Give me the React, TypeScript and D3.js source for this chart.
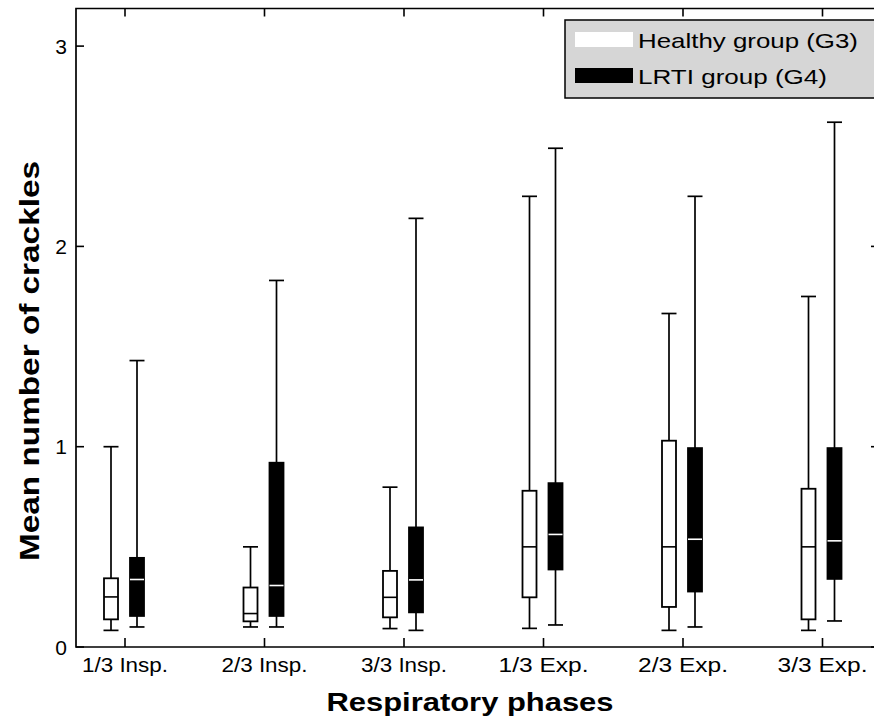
import React from "react";
import * as d3 from "d3";

const categories = ["1/3 Insp.", "2/3 Insp.", "3/3 Insp.", "1/3 Exp.", "2/3 Exp.", "3/3 Exp."];
const healthyMin = [0.083, 0.10, 0.092, 0.093, 0.083, 0.083];
const healthyQ1 = [0.138, 0.128, 0.148, 0.248, 0.20, 0.138];
const healthyMedian = [0.25, 0.167, 0.248, 0.50, 0.50, 0.50];
const healthyQ3 = [0.343, 0.297, 0.38, 0.78, 1.03, 0.79];
const healthyMax = [1.0, 0.50, 0.798, 2.25, 1.665, 1.75];
const lrtiMin = [0.10, 0.10, 0.083, 0.11, 0.10, 0.13];
const lrtiQ1 = [0.155, 0.155, 0.173, 0.387, 0.277, 0.34];
const lrtiMedian = [0.337, 0.307, 0.335, 0.562, 0.538, 0.53];
const lrtiQ3 = [0.445, 0.92, 0.597, 0.818, 0.993, 0.993];
const lrtiMax = [1.43, 1.83, 2.14, 2.49, 2.25, 2.62];
const yTicks = [0, 1, 2, 3];
const legendLabels = ["Healthy group (G3)", "LRTI group (G4)"];

const W = 874, H = 720;
const left = 76, right = 879, top = 8.5, bottom = 647;
const FONT = "'Liberation Sans', Arial, sans-serif";
const ADJ = "spacingAndGlyphs";

export default function App() {
  const x = d3.scaleLinear().domain([1, 6]).range([125, 822.5]);
  const y = d3.scaleLinear().domain([0, 1]).range([bottom, bottom - 200.3]);
  const boxW = 14, capW = 15;
  const groups = [
    { off: -14, min: healthyMin, q1: healthyQ1, med: healthyMedian, q3: healthyQ3, max: healthyMax, fill: "#fff", medColor: "#000" },
    { off: 12, min: lrtiMin, q1: lrtiQ1, med: lrtiMedian, q3: lrtiQ3, max: lrtiMax, fill: "#000", medColor: "#fff" },
  ];
  return (
    <svg width={W} height={H} style={{ position: "absolute", left: 0, top: 0, background: "#fff" }}>
      <rect x={0} y={0} width={W} height={H} fill="#fff" />
      <path d={`M${left},${top}H${right}V${bottom}H${left}Z`} fill="none" stroke="#000" strokeWidth={1.7} />
      {yTicks.map((t) => (
        <g key={"y" + t}>
          <line x1={left} x2={left + 8} y1={y(t)} y2={y(t)} stroke="#000" strokeWidth={1.6} />
          <line x1={right} x2={right - 8} y1={y(t)} y2={y(t)} stroke="#000" strokeWidth={1.6} />
          <text x={67} y={y(t) + 7.5} textAnchor="end" fontFamily={FONT} fontSize={21} fill="#000">{t}</text>
        </g>
      ))}
      {categories.map((c, i) => (
        <g key={"x" + i}>
          <line x1={x(i + 1)} x2={x(i + 1)} y1={bottom} y2={bottom - 9} stroke="#000" strokeWidth={1.6} />
          <line x1={x(i + 1)} x2={x(i + 1)} y1={top} y2={top + 8} stroke="#000" strokeWidth={1.6} />
          <text x={x(i + 1)} y={672} textAnchor="middle" fontFamily={FONT} fontSize={20.5} textLength={c.includes("Insp") ? 86 : 90} lengthAdjust={ADJ} fill="#000">{c}</text>
        </g>
      ))}
      {groups.map((g, gi) =>
        categories.map((c, i) => {
          const cx = x(i + 1) + g.off;
          return (
            <g key={`b${gi}-${i}`}>
              <line x1={cx} x2={cx} y1={y(g.max[i])} y2={y(g.q3[i])} stroke="#000" strokeWidth={1.7} />
              <line x1={cx} x2={cx} y1={y(g.q1[i])} y2={y(g.min[i])} stroke="#000" strokeWidth={1.7} />
              <line x1={cx - capW / 2} x2={cx + capW / 2} y1={y(g.max[i])} y2={y(g.max[i])} stroke="#000" strokeWidth={1.7} />
              <line x1={cx - capW / 2} x2={cx + capW / 2} y1={y(g.min[i])} y2={y(g.min[i])} stroke="#000" strokeWidth={1.7} />
              <rect x={cx - boxW / 2} y={y(g.q3[i])} width={boxW} height={y(g.q1[i]) - y(g.q3[i])} fill={g.fill} stroke="#000" strokeWidth={1.8} />
              <line x1={cx - boxW / 2} x2={cx + boxW / 2} y1={y(g.med[i])} y2={y(g.med[i])} stroke={g.medColor} strokeWidth={1.6} />
            </g>
          );
        })
      )}
      <rect x={565} y={20} width={330} height={78} fill="#d6d6d6" stroke="#000" strokeWidth={1.5} />
      <rect x={575} y={32} width={58} height={15} fill="#fff" />
      <rect x={575} y={68} width={58} height={15} fill="#000" />
      <text x={638} y={48} fontFamily={FONT} fontSize={21} textLength={220} lengthAdjust={ADJ} fill="#000">{legendLabels[0]}</text>
      <text x={638} y={84} fontFamily={FONT} fontSize={21} textLength={189} lengthAdjust={ADJ} fill="#000">{legendLabels[1]}</text>
      <text x={470} y={711} textAnchor="middle" fontFamily={FONT} fontWeight="bold" fontSize={26} textLength={287} lengthAdjust={ADJ} fill="#000">Respiratory phases</text>
      <text transform={`translate(39,361) rotate(-90)`} textAnchor="middle" fontFamily={FONT} fontWeight="bold" fontSize={28} textLength={400} lengthAdjust={ADJ} fill="#000">Mean number of crackles</text>
    </svg>
  );
}
